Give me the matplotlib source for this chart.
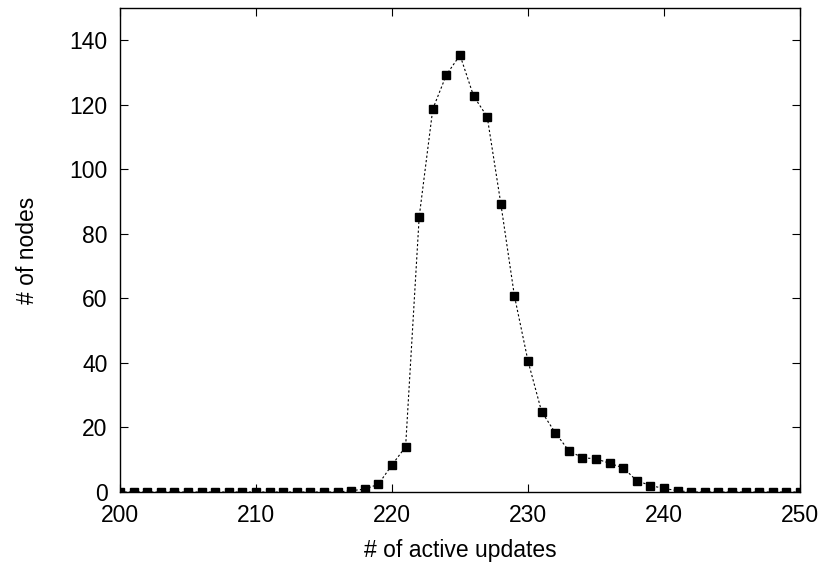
import numpy as np
import matplotlib.pyplot as plt

plt.rcParams['font.family'] = ['Liberation Sans', 'DejaVu Sans']

# number of active updates vs number of nodes
updates = list(range(200, 251))
nodes = [0] * 17 + [
    0.4, 0.9, 2.4, 8.4, 14.0, 85.3, 118.7, 129.3, 135.4, 122.7, 116.3,
    89.4, 60.8, 40.6, 24.9, 18.4, 12.8, 10.6, 10.3, 8.9, 7.5, 3.5, 2.0,
    1.1, 0.4,
] + [0] * 9

fig = plt.figure(figsize=(8.27, 5.64), dpi=100)
ax = fig.add_axes([120 / 827, 72 / 564, 680 / 827, 484 / 564])

ax.plot(updates, nodes, color='black', lw=0.8, linestyle=(0, (2, 2)),
        marker='s', markersize=6, markerfacecolor='black', markeredgecolor='black')

ax.set_xlim(200, 250)
ax.set_ylim(0, 150)
ax.set_xticks(np.arange(200, 251, 10))
ax.set_yticks(np.arange(0, 141, 20))
ax.tick_params(direction='in', length=6, width=0.8, top=True, right=True,
               labelsize=16.5)
ax.tick_params(axis='x', pad=9)
ax.tick_params(axis='y', pad=9)
for s in ax.spines.values():
    s.set_linewidth(1.0)

ax.set_xlabel("# of active updates", fontsize=16.5, labelpad=8)
ax.set_ylabel("# of nodes", fontsize=16.5, labelpad=22)

fig.savefig("out.png", dpi=100)
